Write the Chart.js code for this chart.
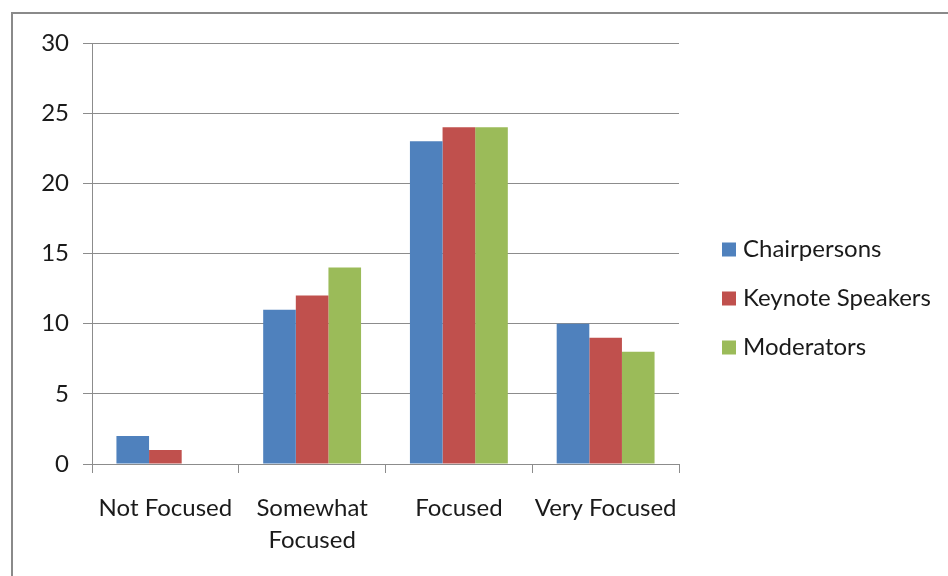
<!DOCTYPE html>
<html>
<head>
<meta charset="utf-8">
<script src="https://cdn.jsdelivr.net/npm/chart.js@4/dist/chart.umd.min.js"></script>
<style>
  html, body { margin: 0; padding: 0; background: #fff; overflow: hidden; }
  #frame { position: absolute; left: 11px; top: 12px; width: 980px; height: 620px;
           border: 2px solid #8a8a8a; box-sizing: border-box; }
  #wrap { position: absolute; left: 0; top: 0; width: 948px; height: 576px; }
</style>
</head>
<body>
<div id="frame"></div>
<div id="wrap"><canvas id="c" width="948" height="576"></canvas></div>
<script>
const categories = ['Not Focused', ['Somewhat', 'Focused'], 'Focused', 'Very Focused'];
const chairpersons = [2, 11, 23, 10];
const keynoteSpeakers = [1, 12, 24, 9];
const moderators = [0, 14, 24, 8];
const seriesNames = ['Chairpersons', 'Keynote Speakers', 'Moderators'];
const seriesColors = ['#4F81BD', '#C0504D', '#9BBB59'];
const yTicks = [0, 5, 10, 15, 20, 25, 30];

const FONT = 'Lato, "Open Sans", sans-serif';
const FONT_SIZE = 24;
const GRID = '#8c8c8c';

// Legend drawn to the right of the plot, one row per series
const sideLegend = {
  id: 'sideLegend',
  afterDraw(chart) {
    const ctx = chart.ctx;
    const x0 = chart.chartArea.right + 43;
    const rowGap = 49;
    const midY = (chart.chartArea.top + chart.chartArea.bottom) / 2 + 45;
    const n = chart.data.datasets.length;
    ctx.save();
    ctx.font = FONT_SIZE + 'px ' + FONT;
    ctx.textBaseline = 'middle';
    ctx.textAlign = 'left';
    chart.data.datasets.forEach((ds, i) => {
      const cy = midY + (i - (n - 1) / 2) * rowGap;
      ctx.fillStyle = ds.backgroundColor;
      ctx.fillRect(x0, cy - 7, 14, 14);
      ctx.fillStyle = '#1a1a1a';
      ctx.fillText(ds.label, x0 + 21, cy);
    });
    ctx.restore();
  }
};

new Chart(document.getElementById('c'), {
  type: 'bar',
  data: {
    labels: categories,
    datasets: [chairpersons, keynoteSpeakers, moderators].map((vals, i) => ({
      label: seriesNames[i],
      data: vals,
      backgroundColor: seriesColors[i],
      borderWidth: 0,
      categoryPercentage: 0.667,
      barPercentage: 1.0
    }))
  },
  options: {
    responsive: false,
    animation: false,
    layout: { padding: { left: 0, top: 43, right: 269, bottom: 0 } },
    plugins: { legend: { display: false }, tooltip: { enabled: false } },
    scales: {
      x: {
        grid: { display: true, drawOnChartArea: false, drawTicks: true, tickLength: 9,
                color: GRID, offset: true },
        border: { display: true, color: GRID, width: 1 },
        ticks: { color: '#1a1a1a', font: { family: FONT, size: FONT_SIZE, lineHeight: 1.33 },
                 padding: 19, maxRotation: 0, autoSkip: false },
        afterFit(scale) { scale.height = 576 - 464; }
      },
      y: {
        min: 0, max: 30,
        afterBuildTicks(scale) { scale.ticks = yTicks.map(v => ({ value: v })); },
        grid: { color: GRID, tickLength: 9, lineWidth: 1 },
        border: { display: true, color: GRID, width: 1 },
        ticks: { color: '#1a1a1a', font: { family: FONT, size: FONT_SIZE }, padding: 14 },
        afterFit(scale) { scale.width = 92; }
      }
    }
  },
  plugins: [sideLegend]
});
</script>
</body>
</html>
